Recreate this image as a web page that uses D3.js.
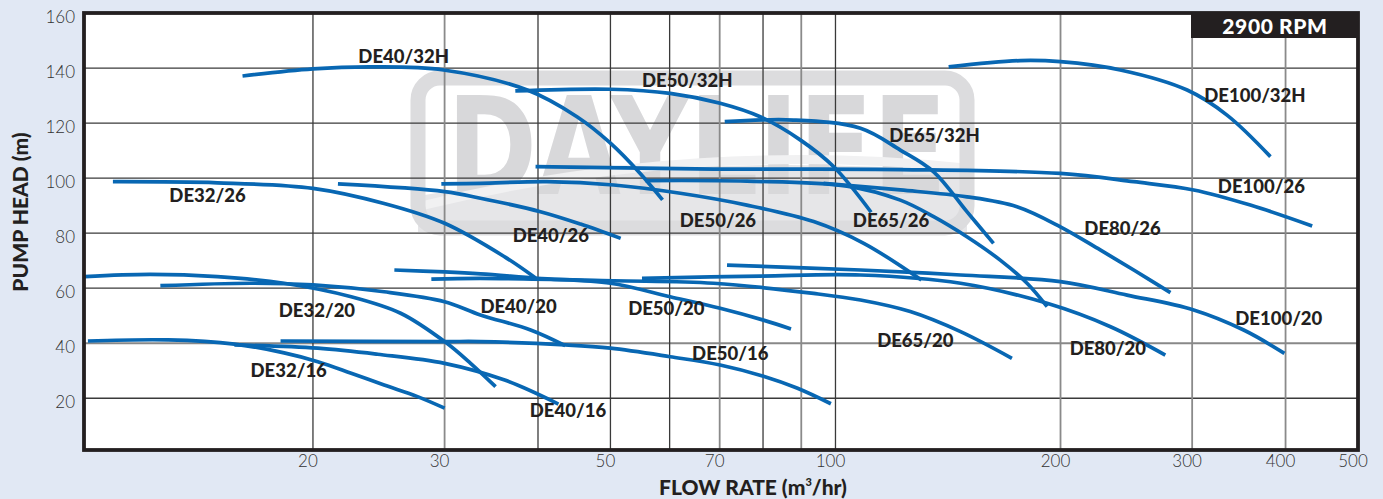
<!DOCTYPE html>
<html>
<head>
<meta charset="utf-8">
<script src="https://cdn.jsdelivr.net/npm/d3@7"></script>
<style>
  body { margin: 0; background: #e1e8f4; }
  svg { display: block; }
  .tick-label { font-family: Lato, "Open Sans", sans-serif; font-weight: 300; font-size: 17px; fill: #333; }
  .curve-label { font-family: Lato, "Open Sans", sans-serif; font-weight: 900; font-size: 18.5px; fill: #231f20; }
  .axis-title { font-family: Lato, "Open Sans", sans-serif; font-weight: 900; font-size: 21px; fill: #231f20; }
</style>
</head>
<body>
<svg id="chart" width="1383" height="499"></svg>
<script>
// pump curves, [flow m3/hr, head m]
const de32_26  = [[10.8,98.7],[14.9,98.3],[20,96.3],[24.9,90.8],[30,83.6],[36.1,71.4],[39.7,63.7]];
const de32_20  = [[9.9,64.2],[12.1,65],[14.9,64.2],[18.3,61.8],[22.5,56.9],[26.2,50.9],[30,40.6],[32.5,32.7],[35.1,24.2]];
const de32_16  = [[10,40.8],[12.8,41.2],[15.7,39.7],[18.3,36.5],[20.3,33.3],[22.5,29.1],[24.9,24.8],[27.6,20.6],[30,16.4]];
const de40_32h = [[16.1,137.1],[20,139.7],[24.1,140.4],[29.9,139.3],[38.7,132],[45.1,122.3],[50,112.7],[54.8,101.7],[58.7,92.1]];
const de40_26  = [[21.6,97.9],[30,95.1],[33.5,92.7],[40.3,87.8],[45.6,83.3],[51.6,78.1]];
const de40_20  = [[12.5,60.9],[16.5,61.8],[20,61.2],[24.9,58.7],[30,55.1],[33.5,50.3],[39.1,44.8],[43.5,39.1]];
const de40_16  = [[15.7,39.4],[20.3,38.2],[24.4,36],[30,32.7],[36.1,26.6],[42.6,17.9]];
const de50_32h = [[37.3,131.7],[50,132.3],[60.1,130.8],[70.1,127.2],[79.3,122.3],[89.7,113.9],[99.4,104.2],[111.6,87.6]];
const de50_26  = [[29.7,97.9],[33.5,98.1],[41.1,98.7],[50.5,97.5],[62,94.5],[76.1,90.2],[93.5,84.2],[109.1,76.3],[130.3,63]];
const de50_20  = [[25.7,66.6],[30,65.9],[33.5,65.2],[39.9,63.6],[50,61.8],[60.1,56.9],[70.1,52.7],[80.1,48.4],[87.2,45.2]];
const de50_16  = [[18.1,40.8],[30,40.6],[33.5,40.6],[43.5,39.4],[50,38.2],[60.1,35.1],[70.1,32.1],[80.1,28],[88.8,23.7],[98.6,18]];
const de65_32h = [[71.1,120.5],[87.9,121.1],[108,118.1],[122.1,110.2],[135.3,102.3],[149.9,87.8],[162.7,76.3]];
const de65_26  = [[55.7,99.1],[76.1,98.9],[103.6,97.1],[122.1,92],[135.3,86],[149.9,78.7],[166.1,70.2],[180.4,61.8],[191.9,53.3]];
const de65_20  = [[28.8,63.3],[33.5,63.6],[50.5,62.7],[68.7,61.8],[93.5,58.1],[108,55.7],[125.9,51.5],[147,44.2],[172.2,34.5]];
const de80_26  = [[96.4,98.1],[122.1,95.7],[149.9,93.2],[174.9,89.6],[199.9,82.3],[226,73.9],[250.6,66.6],[280.6,58.4]];
const de80_20  = [[55.1,63.6],[79.3,64.4],[108,64.8],[147,61.8],[191.9,54.5],[233.3,46],[276.2,35.7]];
const de100_32h = [[141.7,140.4],[176.7,142.7],[199.9,142.3],[240.4,139.3],[295.4,132],[334,122.9],[381.8,107.8]];
const de100_26 = [[39.7,104.2],[68.7,103.3],[122.1,103.1],[199.9,101.7],[250.6,98.7],[301.4,95.7],[358.9,90.2],[434.2,82.6]];
const de100_20 = [[71.6,68.4],[108,66.6],[147,64.8],[199.9,62.4],[245.5,57.5],[301.4,52.1],[351.6,44.8],[398.6,36.3]];

const seriesNames = ["DE32/26","DE32/20","DE32/16","DE40/32H","DE40/26","DE40/20","DE40/16",
  "DE50/32H","DE50/26","DE50/20","DE50/16","DE65/32H","DE65/26","DE65/20",
  "DE80/26","DE80/20","DE100/32H","DE100/26","DE100/20"];
const seriesData = [de32_26,de32_20,de32_16,de40_32h,de40_26,de40_20,de40_16,
  de50_32h,de50_26,de50_20,de50_16,de65_32h,de65_26,de65_20,
  de80_26,de80_20,de100_32h,de100_26,de100_20];
// where each name sits (flow, head of baseline)
const labelAt = [[12.85,91.4],[18.0,49.6],[16.5,27.8],[23.0,141.7],[37.0,76.9],[33.5,50.9],[39.0,13.3],
  [55.1,133.2],[61.9,82.1],[52.8,50.3],[64.3,33.9],[118,113.2],[105.5,82.1],[113.7,38.7],
  [215.2,79.3],[205.7,35.7],[311.4,127.6],[324.7,94.5],[342.6,46.6]];

const yTicks = [20,40,60,80,100,120,140,160];
const xGrid = [20,30,40,50,60,70,80,90,100,200,300,400];
const xLabels = [20,30,50,70,100,200,300,400,500];
const lightGrid = [30,70,90,200,300,400];

const svg = d3.select("#chart"),
      pLeft = 84, pRight = 1358, pTop = 13, pBottom = 450,
      x = d3.scaleLog().domain([9.88, 500]).range([pLeft, pRight]),
      y = d3.scaleLinear().domain([1.2, 160]).range([pBottom, pTop]);

// plot background
svg.append("rect").attr("x", pLeft).attr("y", pTop).attr("width", pRight-pLeft).attr("height", pBottom-pTop).attr("fill", "#fff");

svg.append("clipPath").attr("id", "plotclip")
  .append("rect").attr("x", pLeft).attr("y", pTop).attr("width", pRight-pLeft).attr("height", pBottom-pTop);

// DAYLIFE watermark
const wm = svg.append("g").attr("clip-path", "url(#plotclip)");
wm.append("path")
  .attr("d", "M418,232 L418,196 Q690,150 967,172 L967,232 Z")
  .attr("fill", "#e6e6e8");
wm.append("text")
  .attr("x", 447).attr("y", 194)
  .attr("textLength", 500).attr("lengthAdjust", "spacingAndGlyphs")
  .style("font-family", "'DejaVu Sans', sans-serif").style("font-weight", "bold")
  .style("font-size", "136px").attr("fill", "#d8d8da")
  .text("DAYLIFE");
wm.append("path")
  .attr("d", "M425,205 Q690,140 965,168")
  .attr("fill", "none").attr("stroke", "#f1f1f2").attr("stroke-width", 9);
wm.append("rect")
  .attr("x", 418).attr("y", 78).attr("width", 549).attr("height", 150).attr("rx", 22)
  .attr("fill", "none").attr("stroke", "#dcdcde").attr("stroke-width", 15);

// grid
svg.append("g").selectAll("line").data(yTicks.filter(d => d < 160)).enter().append("line")
  .attr("x1", pLeft).attr("x2", pRight)
  .attr("y1", d => y(d)).attr("y2", d => y(d))
  .attr("stroke", d => d == 40 ? "#888" : "#3a3a3a")
  .attr("stroke-width", d => d == 40 ? 2 : 1.3);

svg.append("g").selectAll("line").data(xGrid).enter().append("line")
  .attr("x1", d => x(d)).attr("x2", d => x(d))
  .attr("y1", pTop).attr("y2", pBottom)
  .attr("stroke", d => lightGrid.includes(d) ? "#8a8a8a" : "#3a3a3a")
  .attr("stroke-width", d => lightGrid.includes(d) ? 1.8 : 1.3);

// curves
const line = d3.line().x(d => x(d[0])).y(d => y(d[1])).curve(d3.curveCatmullRom.alpha(0.5));
svg.append("g").attr("clip-path", "url(#plotclip)")
  .selectAll("path").data(seriesData).enter().append("path")
  .attr("d", line)
  .attr("fill", "none").attr("stroke", "#0867b3").attr("stroke-width", 3.7);

// curve names
svg.append("g").selectAll("text").data(seriesNames).enter().append("text")
  .attr("class", "curve-label")
  .attr("x", (d, i) => x(labelAt[i][0]))
  .attr("y", (d, i) => y(labelAt[i][1]))
  .text(d => d);

// frame
svg.append("rect").attr("x", pLeft).attr("y", pTop).attr("width", pRight-pLeft).attr("height", pBottom-pTop)
  .attr("fill", "none").attr("stroke", "#231f20").attr("stroke-width", 3.8);

// rpm badge
svg.append("rect").attr("x", 1191).attr("y", pTop).attr("width", pRight-1191).attr("height", 25).attr("fill", "#231f20");
svg.append("text").attr("x", 1275).attr("y", 33.5).attr("text-anchor", "middle")
  .style("font-family", "Lato, sans-serif").style("font-weight", "900").style("font-size", "21px")
  .style("letter-spacing", "0.6px")
  .attr("fill", "#fff").text("2900 RPM");

// tick labels
svg.append("g").selectAll("text").data(yTicks).enter().append("text")
  .attr("class", "tick-label")
  .attr("x", 75).attr("y", d => y(d) + 10)
  .attr("text-anchor", "end")
  .text(d => d);

svg.append("g").selectAll("text").data(xLabels).enter().append("text")
  .attr("class", "tick-label")
  .attr("x", d => x(d) - 5).attr("y", 467)
  .attr("text-anchor", "middle")
  .text(d => d);

// axis titles
const xt = svg.append("text").attr("class", "axis-title").attr("x", 753).attr("y", 495).attr("text-anchor", "middle");
xt.append("tspan").text("FLOW RATE (m");
xt.append("tspan").attr("dy", -9).style("font-size", "11px").text("3");
xt.append("tspan").attr("dy", 9).text("/hr)");

svg.append("text").attr("class", "axis-title")
  .attr("transform", "translate(28,212) rotate(-90)")
  .attr("text-anchor", "middle")
  .text("PUMP HEAD (m)");
</script>
</body>
</html>
